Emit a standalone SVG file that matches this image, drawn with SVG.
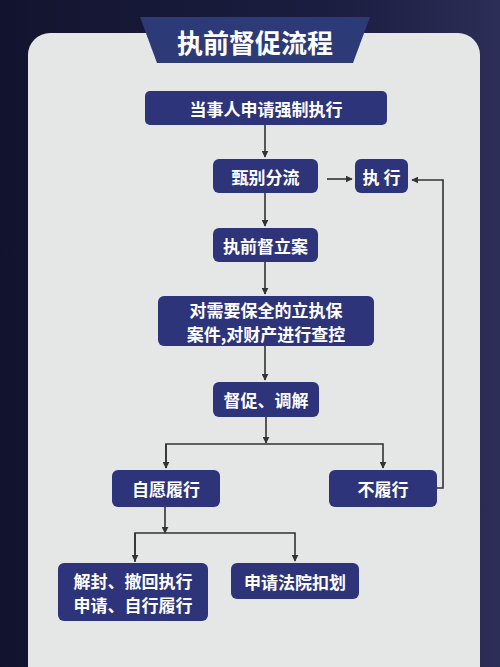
<svg xmlns="http://www.w3.org/2000/svg" width="500" height="667" viewBox="0 0 500 667">
<defs>
<linearGradient id="bg" x1="0" y1="0" x2="1" y2="0">
<stop offset="0" stop-color="#12142f"/>
<stop offset="0.7" stop-color="#1c1e42"/>
<stop offset="1" stop-color="#2c2e57"/>
</linearGradient>
<marker id="ah" viewBox="0 0 10 10" refX="9" refY="5" markerWidth="7" markerHeight="7" markerUnits="userSpaceOnUse" orient="auto">
<path d="M0,0 L10,5 L0,10 z" fill="#333"/>
</marker>
<style>
.box{fill:#2e3479;}
.t{fill:#fff;font-family:"Noto Sans CJK SC","Noto Sans",sans-serif;font-weight:bold;font-size:17px;text-anchor:middle;dominant-baseline:central;}
.ln{fill:none;stroke:#333;stroke-width:1.6;}
</style>
</defs>
<rect width="500" height="667" fill="url(#bg)"/>
<rect x="28" y="33" width="452" height="660" rx="22" fill="#e5e7e7"/>
<g id="title">
<polygon points="140,17 370,17 353,63 157,63" fill="#2d3a78"/>
<text x="255" y="41" class="t" style="font-size:26px">执前督促流程</text>
</g>
<g id="connectors">
<line class="ln" x1="265" y1="125" x2="265" y2="157" marker-end="url(#ah)"/>
<line class="ln" x1="327" y1="179" x2="352" y2="179" marker-end="url(#ah)"/>
<polyline class="ln" points="437,488 443,488 443,180 412,180" marker-end="url(#ah)"/>
<line class="ln" x1="265" y1="193" x2="265" y2="226" marker-end="url(#ah)"/>
<line class="ln" x1="265" y1="262" x2="265" y2="294" marker-end="url(#ah)"/>
<line class="ln" x1="265" y1="346" x2="265" y2="380" marker-end="url(#ah)"/>
<line class="ln" x1="266" y1="417" x2="266" y2="443" marker-end="url(#ah)"/>
<polyline class="ln" points="166,468 166,444 383,444 383,468" marker-end="url(#ah)"/>
<line class="ln" x1="166" y1="444" x2="166" y2="468" marker-end="url(#ah)"/>
<line class="ln" x1="165" y1="507" x2="165" y2="533" marker-end="url(#ah)"/>
<polyline class="ln" points="135,562 135,533 295,533 295,561" marker-end="url(#ah)"/>
<line class="ln" x1="135" y1="533" x2="135" y2="561" marker-end="url(#ah)"/>
</g>
<g id="n1"><rect class="box" x="145" y="91" width="242" height="34" rx="5"/><text class="t" x="266" y="108">当事人申请强制执行</text></g>
<g id="n2"><rect class="box" x="213" y="159" width="105" height="34" rx="6"/><text class="t" x="265.5" y="176">甄别分流</text></g>
<g id="n3"><rect class="box" x="355" y="159" width="53" height="34" rx="6"/><text class="t" x="381.5" y="176">执 行</text></g>
<g id="n4"><rect class="box" x="213" y="228" width="105" height="34" rx="6"/><text class="t" x="265.5" y="245">执前督立案</text></g>
<g id="n5"><rect class="box" x="158" y="296" width="216" height="50" rx="6"/><text class="t" x="266" y="309">对需要保全的立执保</text><text class="t" x="266" y="333">案件,对财产进行查控</text></g>
<g id="n6"><rect class="box" x="213" y="382" width="106" height="35" rx="6"/><text class="t" x="266" y="399.5">督促、调解</text></g>
<g id="n7"><rect class="box" x="112" y="470" width="108" height="37" rx="6"/><text class="t" x="166" y="488.5">自愿履行</text></g>
<g id="n8"><rect class="box" x="329" y="470" width="108" height="37" rx="6"/><text class="t" x="383" y="488.5">不履行</text></g>
<g id="n9"><rect class="box" x="58" y="563" width="150" height="58" rx="6"/><text class="t" x="133" y="580">解封、撤回执行</text><text class="t" x="133" y="604">申请、自行履行</text></g>
<g id="n10"><rect class="box" x="231" y="563" width="128" height="36" rx="6"/><text class="t" x="295" y="581">申请法院扣划</text></g>
</svg>
